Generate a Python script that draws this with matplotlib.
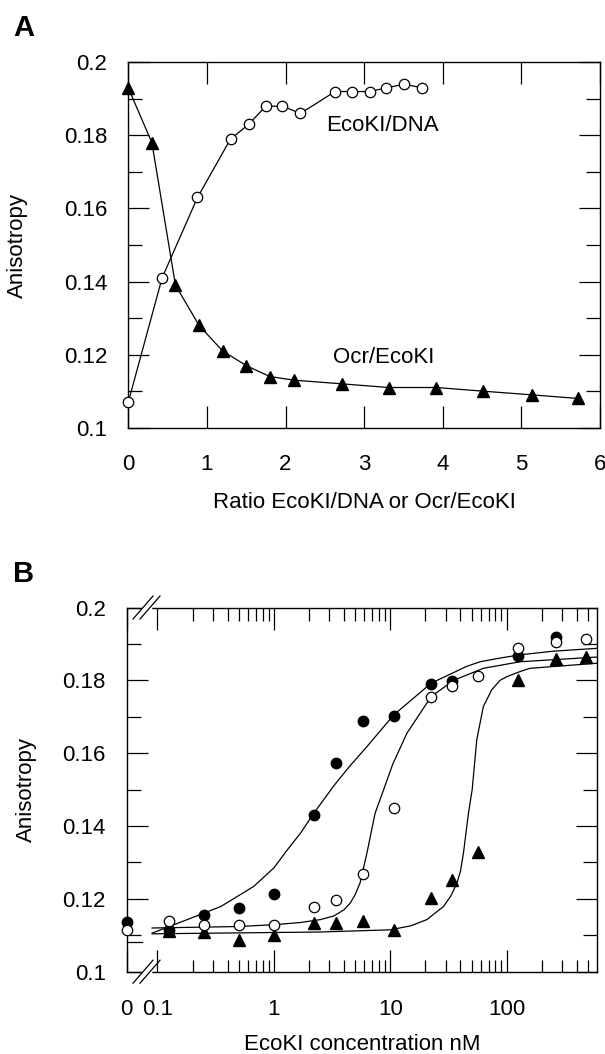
import matplotlib
matplotlib.use('Agg')
import matplotlib.pyplot as plt
from matplotlib.ticker import FixedLocator, NullFormatter
from matplotlib.transforms import blended_transform_factory

plt.rcParams['font.family'] = ['Liberation Sans', 'DejaVu Sans']

# ---------------- Panel A data ----------------
ocr_ratio = [0.0, 0.30, 0.60, 0.90, 1.20, 1.50, 1.80, 2.11, 2.72, 3.31, 3.92, 4.51, 5.13, 5.72]
ocr_aniso = [0.193, 0.178, 0.139, 0.128, 0.121, 0.117, 0.114, 0.113, 0.112, 0.111, 0.111, 0.110, 0.109, 0.108]
dna_ratio = [0.0, 0.43, 0.88, 1.30, 1.53, 1.75, 1.96, 2.19, 2.63, 2.85, 3.07, 3.28, 3.51, 3.74]
dna_aniso = [0.107, 0.141, 0.163, 0.179, 0.183, 0.188, 0.188, 0.186, 0.192, 0.192, 0.192, 0.193, 0.194, 0.193]
a_xticks = [0, 1, 2, 3, 4, 5, 6]
a_yticks = [0.1, 0.12, 0.14, 0.16, 0.18, 0.2]
a_ylabels = ['0.1', '0.12', '0.14', '0.16', '0.18', '0.2']

# ---------------- Panel B data ----------------
# None entries = the "0" concentration (plotted at the broken left edge)
filled_conc = [None, 0.125, 0.25, 0.5, 1.0, 2.2, 3.4, 5.8, 10.7, 22.5, 34, 126, 265]
filled_aniso = [0.1137, 0.1115, 0.1156, 0.1176, 0.1213, 0.1431, 0.1573, 0.1687, 0.1702, 0.1789, 0.1798, 0.1866, 0.1920]
open_conc = [None, 0.125, 0.25, 0.5, 1.0, 2.2, 3.4, 5.8, 10.7, 22.5, 34, 57, 126, 265, 480]
open_aniso = [0.1115, 0.1138, 0.1127, 0.1127, 0.1127, 0.1177, 0.1197, 0.1268, 0.1449, 0.1755, 0.1785, 0.1813, 0.1890, 0.1905, 0.1913]
tri_conc = [0.125, 0.25, 0.5, 1.0, 2.2, 3.4, 5.8, 10.7, 22.5, 34, 57, 126, 265, 480]
tri_aniso = [0.1112, 0.1110, 0.1088, 0.1102, 0.1135, 0.1134, 0.1138, 0.1115, 0.1202, 0.1252, 0.1330, 0.1800, 0.1858, 0.1863]

# fitted curves
fit1_conc = [0.09, 0.18, 0.35, 0.67, 1.0, 1.3, 1.69, 2.2, 3.3, 4.5, 6.3, 10.7, 22.4, 45, 59, 87, 130, 250, 600]
fit1_aniso = [0.1106, 0.1143, 0.1179, 0.1234, 0.1285, 0.1334, 0.1380, 0.1435, 0.1512, 0.1565, 0.1618, 0.1705, 0.1792, 0.1838, 0.1851, 0.1861, 0.1870, 0.1880, 0.1888]
fit2_conc = [0.09, 0.49, 1.0, 1.69, 2.5, 3.27, 4.0, 4.54, 5.0, 5.5, 6.3, 7.4, 8.77, 10.5, 13.9, 22.4, 34.9, 63, 130, 600]
fit2_aniso = [0.1120, 0.1124, 0.1129, 0.1135, 0.1143, 0.1153, 0.1170, 0.1189, 0.1212, 0.1244, 0.1326, 0.1435, 0.1500, 0.1570, 0.1655, 0.1755, 0.1800, 0.1833, 0.1851, 0.1864]
fit3_conc = [0.09, 2.5, 10, 15, 20.6, 28.6, 33, 37.3, 40, 42.5, 46.9, 50.5, 55.3, 63, 74.3, 87.7, 100, 130, 158, 600]
fit3_aniso = [0.1104, 0.1109, 0.1115, 0.1126, 0.1143, 0.1179, 0.1207, 0.1243, 0.1275, 0.1326, 0.1435, 0.1500, 0.1637, 0.1728, 0.1774, 0.1800, 0.1810, 0.1824, 0.1833, 0.1847]
b_major = [0.1, 1, 10, 100]
b_major_labels = ['0.1', '1', '10', '100']
b_minor = [0.2, 0.3, 0.4, 0.5, 0.6, 0.7, 0.8, 0.9, 2, 3, 4, 5, 6, 7, 8, 9,
           20, 30, 40, 50, 60, 70, 80, 90, 200, 300, 400, 500]
b_yticks = [0.1, 0.12, 0.14, 0.16, 0.18, 0.2]

# ---------------- layout ----------------
W, H = 605, 1054
fig = plt.figure(figsize=(W / 100, H / 100), dpi=100)


def rect(l, r, t, b):
    return [l / W, 1 - b / H, (r - l) / W, (b - t) / H]


FS = 16
LW = 0.9
axA = fig.add_axes(rect(128.3, 600, 62.3, 427.7))
axB = fig.add_axes(rect(126.7, 597.3, 607.5, 971.7))

for ax in (axA, axB):
    for s in ax.spines.values():
        s.set_linewidth(1.0)

# ---------------- Panel A ----------------
axA.plot(dna_ratio, dna_aniso, '-', color='black', lw=LW, zorder=2, clip_on=False)
axA.plot(dna_ratio, dna_aniso, 'o', ms=7.5, mfc='white', mec='black', mew=LW, zorder=3, clip_on=False)
axA.plot(ocr_ratio, ocr_aniso, '-', color='black', lw=LW, zorder=2, clip_on=False)
axA.plot(ocr_ratio, ocr_aniso, '^', ms=8.5, color='black', zorder=4, clip_on=False)
axA.set_xlim(0, 6)
axA.set_ylim(0.1, 0.2)
axA.set_xticks(a_xticks)
axA.set_xticklabels([str(v) for v in a_xticks])
axA.set_yticks(a_yticks)
axA.set_yticklabels(a_ylabels)
axA.yaxis.set_minor_locator(FixedLocator([0.11, 0.13, 0.15, 0.17, 0.19]))
axA.tick_params(which='both', direction='in', top=True, right=True, labelsize=FS, width=LW)
axA.tick_params(axis='x', which='major', length=16, pad=19)
axA.tick_params(axis='y', which='major', length=15, pad=15)
axA.tick_params(axis='y', which='minor', length=10)
axA.text(2.52, 0.1826, 'EcoKI/DNA', fontsize=FS, va='center', ha='left')
axA.text(2.60, 0.1193, 'Ocr/EcoKI', fontsize=FS, va='center', ha='left')

# ---------------- Panel B ----------------
x_left, x_right = 0.0544, 600.0
zero_pos = x_left


def pos(vals):
    return [zero_pos if v is None else v for v in vals]


axB.set_xscale('log')
axB.plot(fit1_conc, fit1_aniso, '-', color='black', lw=LW, zorder=2)
axB.plot(fit2_conc, fit2_aniso, '-', color='black', lw=LW, zorder=2)
axB.plot(fit3_conc, fit3_aniso, '-', color='black', lw=LW, zorder=2)
axB.plot(tri_conc, tri_aniso, '^', ms=8, color='black', zorder=3, clip_on=False)
axB.plot(pos(filled_conc), filled_aniso, 'o', ms=7.5, color='black', zorder=4, clip_on=False)
axB.plot(pos(open_conc), open_aniso, 'o', ms=7.5, mfc='white', mec='black', mew=LW, zorder=5, clip_on=False)
axB.set_xlim(x_left, x_right)
axB.set_ylim(0.1, 0.2)
axB.xaxis.set_major_locator(FixedLocator([zero_pos] + b_major))
axB.set_xticklabels(['0'] + b_major_labels)
axB.xaxis.set_minor_locator(FixedLocator(b_minor))
axB.xaxis.set_minor_formatter(NullFormatter())
axB.set_yticks(b_yticks)
axB.set_yticklabels(a_ylabels)
axB.yaxis.set_minor_locator(FixedLocator([0.11, 0.13, 0.15, 0.17, 0.19]))
axB.tick_params(which='both', direction='in', top=True, right=True, labelsize=FS, width=LW)
axB.tick_params(axis='x', which='major', length=16, pad=20)
axB.tick_params(axis='x', which='minor', length=9)
axB.tick_params(axis='y', which='major', length=15, pad=15)
axB.tick_params(axis='y', which='minor', length=10)

# short extra mark on left spine
btr = blended_transform_factory(axB.transAxes, axB.transData)
axB.plot([0, 15 / 470.6], [0.1082, 0.1082], color='black', lw=LW, transform=btr, clip_on=False)

# axis break marks
wB, hB = 470.6, 364.2
for yb in (0.0, 1.0):
    axB.plot([16.3 / wB, 23.3 / wB], [yb, yb], color='white', lw=2.5, transform=axB.transAxes,
             clip_on=False, zorder=6)
    for cx in (16.3, 23.3):
        axB.plot([(cx - 10) / wB, (cx + 10) / wB], [yb - 11.5 / hB, yb + 11.5 / hB],
                 color='black', lw=LW, transform=axB.transAxes, clip_on=False, zorder=7)

# ---------------- labels ----------------
fig.text(24 / W, 1 - 27.5 / H, 'A', fontsize=21, fontweight='bold', ha='center', va='center')
fig.text(24 / W, 1 - 574 / H, 'B', fontsize=21, fontweight='bold', ha='center', va='center')
fig.text(364 / W, 1 - 502 / H, 'Ratio EcoKI/DNA or Ocr/EcoKI', fontsize=FS, ha='center', va='center')
fig.text(362 / W, 1 - 1044 / H, 'EcoKI concentration nM', fontsize=FS, ha='center', va='center')
fig.text(17 / W, 1 - 245 / H, 'Anisotropy', fontsize=FS, rotation=90, ha='center', va='center')
fig.text(26 / W, 1 - 789.6 / H, 'Anisotropy', fontsize=FS, rotation=90, ha='center', va='center')

fig.savefig('out.png', dpi=100)
